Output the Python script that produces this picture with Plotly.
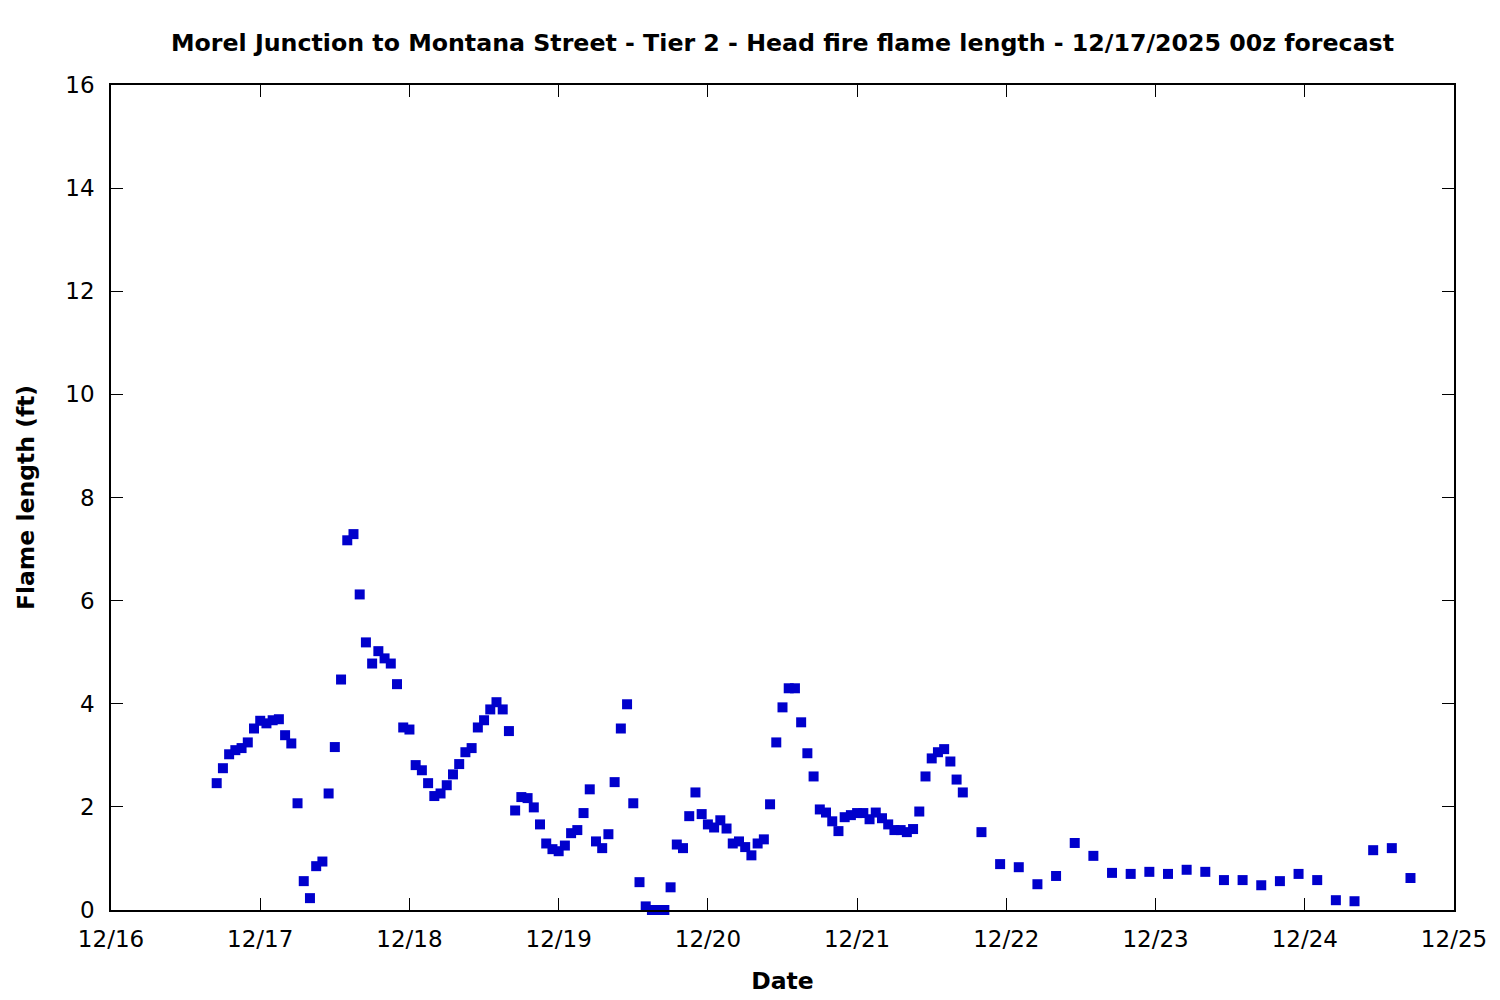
import pandas as pd
import plotly.graph_objects as go

# Hourly forecast values, starting 2025-12-16 17:00
hourly_start = "2025-12-16 17:00"
hourly_values = [
    2.46, 2.75, 3.02, 3.10, 3.14, 3.25, 3.52, 3.67, 3.62, 3.68,
    3.70, 3.39, 3.23, 2.07, 0.56, 0.23, 0.85, 0.94, 2.26, 3.16,
    4.47, 7.17, 7.29, 6.12, 5.19, 4.78, 5.02, 4.88, 4.78, 4.38,
    3.54, 3.50, 2.81, 2.71, 2.46, 2.21, 2.26, 2.42, 2.63, 2.83,
    3.06, 3.14, 3.54, 3.68, 3.89, 4.03, 3.89, 3.47, 1.93, 2.19,
    2.17, 1.99, 1.66, 1.29, 1.18, 1.14, 1.25, 1.49, 1.55, 1.88,
    2.34, 1.33, 1.20, 1.47, 2.48, 3.52, 3.99, 2.07, 0.54, 0.07,
    0.00, 0.00, 0.00, 0.44, 1.27, 1.20, 1.82, 2.28, 1.86, 1.66,
    1.60, 1.74, 1.58, 1.29, 1.33, 1.22, 1.06, 1.29, 1.37, 2.05,
    3.25, 3.93, 4.30, 4.30, 3.64, 3.04, 2.59, 1.95, 1.89, 1.72,
    1.53, 1.80, 1.84, 1.88, 1.88, 1.76, 1.89, 1.78, 1.66, 1.55,
    1.55, 1.51, 1.57, 1.91, 2.59, 2.94, 3.06, 3.12, 2.88, 2.53,
    2.28,
]

# 3-hourly forecast values, starting 2025-12-21 20:00
three_hourly_start = "2025-12-21 20:00"
three_hourly_values = [
    1.51, 0.89, 0.83, 0.50, 0.66, 1.30, 1.05, 0.72, 0.70, 0.74,
    0.70, 0.78, 0.74, 0.58, 0.58, 0.48, 0.56, 0.70, 0.58, 0.19,
    0.17, 1.16, 1.20, 0.62,
]

y_ticks = [0, 2, 4, 6, 8, 10, 12, 14, 16]
x_range = ["2025-12-16", "2025-12-25"]

times = list(pd.date_range(hourly_start, periods=len(hourly_values), freq="h")) + \
        list(pd.date_range(three_hourly_start, periods=len(three_hourly_values), freq="3h"))
values = hourly_values + three_hourly_values

font_family = "DejaVu Sans"
W, H = 1492, 992  # page body has an 8px margin

fig = go.Figure()
fig.add_trace(go.Scatter(
    x=times, y=values, mode="markers",
    marker=dict(symbol="square", size=10, color="#0000cc", line=dict(width=0)),
    cliponaxis=False,
    showlegend=False,
))

fig.update_layout(
    width=W, height=H,
    paper_bgcolor="white", plot_bgcolor="white",
    margin=dict(l=103, r=46, t=77, b=90, autoexpand=False),
    font=dict(family=font_family, size=23, color="black"),
    title=dict(
        text="<b>Morel Junction to Montana Street - Tier 2 - Head fire flame length - 12/17/2025 00z forecast</b>",
        x=((111 + 1454) / 2 - 8) / W, xanchor="center",
        y=1 - (43 - 8) / H, yanchor="middle",
        font=dict(family=font_family, size=23.7, color="black"),
    ),
)

fig.update_xaxes(
    range=x_range, type="date",
    tickformat="%m/%d", dtick=86400000, tick0="2025-12-16",
    ticks="inside", ticklen=12, tickwidth=1.2, tickcolor="black",
    showline=True, linecolor="black", linewidth=1.5, mirror="allticks",
    showgrid=False, zeroline=False,
    tickfont=dict(family=font_family, size=23),
    ticklabelstandoff=8,
    title=dict(text="<b>Date</b>", font=dict(family=font_family, size=23.5), standoff=21),
)
fig.update_yaxes(
    range=[0, 16], tickvals=y_ticks,
    ticks="inside", ticklen=12, tickwidth=1.2, tickcolor="black",
    showline=True, linecolor="black", linewidth=1.5, mirror="allticks",
    showgrid=False, zeroline=False,
    tickfont=dict(family=font_family, size=23),
    ticklabelstandoff=10,
    title=dict(text="<b>Flame length (ft)</b>", font=dict(family=font_family, size=23.5), standoff=24),
)

fig.write_html("out.html")
